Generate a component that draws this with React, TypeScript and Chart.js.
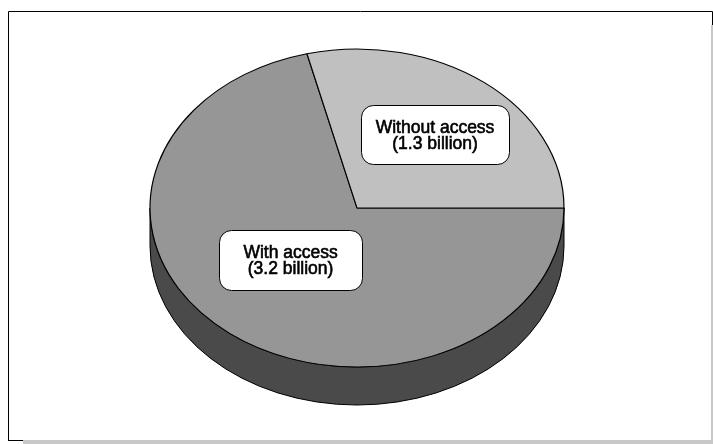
import React, { useEffect, useRef } from "react";
import { Chart, registerables } from "chart.js";

Chart.register(...registerables);

const categories = ["With access", "Without access"];
const valueLabels = ["(3.2 billion)", "(1.3 billion)"];
const values = [3.2, 1.3];

const topColors = ["#969696", "#C0C0C0"];
const sideColor = "#4A4A4A";
const TILT = 159 / 207; // vertical squash of the pie
const DEPTH = 38; // thickness of the pie in px
// label box centres, as fractions of the x/y radii from the pie centre
const labelOffsets = [
  { fx: -0.321, fy: 0.327, w: 143, h: 60 },
  { fx: 0.377, fy: -0.462, w: 148, h: 59 },
];

const W = 713;
const H = 444;

function roundRect(ctx: CanvasRenderingContext2D, x: number, y: number, w: number, h: number, r: number) {
  ctx.beginPath();
  ctx.moveTo(x + r, y);
  ctx.lineTo(x + w - r, y);
  ctx.arcTo(x + w, y, x + w, y + r, r);
  ctx.lineTo(x + w, y + h - r);
  ctx.arcTo(x + w, y + h, x + w - r, y + h, r);
  ctx.lineTo(x + r, y + h);
  ctx.arcTo(x, y + h, x, y + h - r, r);
  ctx.lineTo(x, y + r);
  ctx.arcTo(x, y, x + r, y, r);
  ctx.closePath();
}

const framePlugin = {
  id: "frame",
  beforeDraw(chart: any) {
    const ctx: CanvasRenderingContext2D = chart.ctx;
    ctx.save();
    ctx.fillStyle = "#ffffff";
    ctx.fillRect(0, 0, W, H);
    ctx.strokeStyle = "#000000";
    ctx.lineWidth = 1;
    ctx.beginPath();
    ctx.moveTo(8.5, 440);
    ctx.lineTo(8.5, 11.5);
    ctx.lineTo(712.5, 11.5);
    ctx.lineTo(712.5, 25);
    ctx.moveTo(8, 440.5);
    ctx.lineTo(23, 440.5);
    ctx.stroke();
    ctx.fillStyle = "#C8C8C8";
    ctx.fillRect(23, 440, W - 23, 4);
    ctx.fillRect(711, 25, 2, H - 25);
    ctx.restore();
  },
};

const pie3dPlugin = {
  id: "pie3d",
  beforeDatasetsDraw(chart: any) {
    const ctx: CanvasRenderingContext2D = chart.ctx;
    const meta = chart.getDatasetMeta(0);
    const arcs = meta.data;
    if (!arcs.length) return;
    const { x, y, outerRadius } = arcs[0].getProps(["x", "y", "outerRadius"], true);
    const rx = outerRadius;
    const ry = outerRadius * TILT;
    ctx.save();
    ctx.fillStyle = sideColor;
    ctx.strokeStyle = "#000000";
    ctx.lineWidth = 1;
    const TWO = Math.PI * 2;
    for (const arc of arcs) {
      const p = arc.getProps(["startAngle", "endAngle"], true);
      let a = ((p.startAngle % TWO) + TWO) % TWO;
      let b = a + (p.endAngle - p.startAngle);
      for (const off of [0, TWO]) {
        const s = Math.max(a, off);
        const e = Math.min(b, off + Math.PI);
        if (e > s) {
          ctx.beginPath();
          ctx.ellipse(x, y, rx, ry, 0, s, e, false);
          ctx.ellipse(x, y + DEPTH, rx, ry, 0, e, s, true);
          ctx.closePath();
          ctx.fill();
          ctx.stroke();
        }
      }
    }
    ctx.restore();
    // squash the top face drawn by Chart.js
    ctx.save();
    ctx.translate(x, y);
    ctx.scale(1, TILT);
    ctx.translate(-x, -y);
  },
  afterDatasetsDraw(chart: any) {
    const ctx: CanvasRenderingContext2D = chart.ctx;
    ctx.restore();
    const meta = chart.getDatasetMeta(0);
    const arcs = meta.data;
    if (!arcs.length) return;
    const { x, y, outerRadius } = arcs[0].getProps(["x", "y", "outerRadius"], true);
    const rx = outerRadius;
    const ry = outerRadius * TILT;
    ctx.save();
    categories.forEach((cat, i) => {
      const o = labelOffsets[i];
      const cx = x + o.fx * rx;
      const cy = y + o.fy * ry;
      roundRect(ctx, Math.round(cx - o.w / 2) + 0.5, Math.round(cy - o.h / 2) + 0.5, o.w, o.h, 12);
      ctx.fillStyle = "#ffffff";
      ctx.fill();
      ctx.strokeStyle = "#000000";
      ctx.lineWidth = 1;
      ctx.stroke();
      ctx.fillStyle = "#000000";
      ctx.strokeStyle = "#000000";
      ctx.lineWidth = 0.6;
      ctx.font = '17.5px "Liberation Sans", Arial, sans-serif';
      ctx.textAlign = "center";
      ctx.textBaseline = "alphabetic";
      ctx.fillText(cat, cx, cy - 2);
      ctx.strokeText(cat, cx, cy - 2);
      ctx.fillText(valueLabels[i], cx, cy + 14);
      ctx.strokeText(valueLabels[i], cx, cy + 14);
    });
    ctx.restore();
  },
};

export default function App() {
  const ref = useRef<HTMLCanvasElement | null>(null);
  useEffect(() => {
    if (!ref.current) return;
    const chart = new Chart(ref.current, {
      type: "pie",
      data: {
        labels: categories,
        datasets: [
          {
            data: values,
            backgroundColor: topColors,
            borderColor: "#000000",
            borderWidth: 1.2,
            clip: false as any,
          },
        ],
      },
      options: {
        responsive: false,
        animation: false,
        rotation: 90,
        radius: 207,
        layout: { padding: { left: 150, right: 149, top: 1, bottom: 29 } },
        plugins: { legend: { display: false }, tooltip: { enabled: false } },
        events: [],
      },
      plugins: [framePlugin, pie3dPlugin],
    });
    return () => chart.destroy();
  }, []);
  return (
    <div style={{ position: "absolute", left: 0, top: 0, width: W, height: H, background: "#fff" }}>
      <canvas ref={ref} width={W} height={H} style={{ display: "block", width: W, height: H }} />
    </div>
  );
}
